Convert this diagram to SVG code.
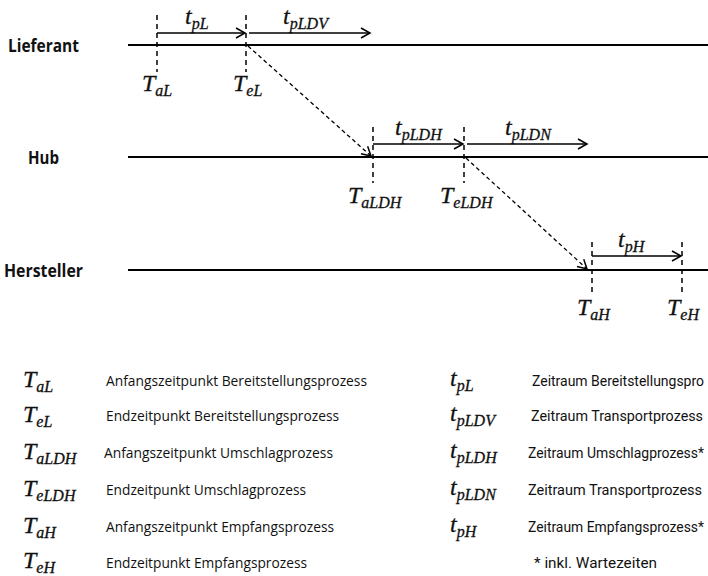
<svg xmlns="http://www.w3.org/2000/svg" width="708" height="576" viewBox="0 0 708 576">
  <defs>
    <marker id="head" markerUnits="userSpaceOnUse" markerWidth="12" markerHeight="12" refX="10" refY="6" orient="auto">
      <path d="M1,1 L10,6 L1,11" fill="none" stroke="#000" stroke-width="1.5"/>
    </marker>
    <style>
      .lane { stroke: #000; stroke-width: 2; }
      .tick { stroke: #000; stroke-width: 1.5; stroke-dasharray: 5 4; }
      .span { stroke: #000; stroke-width: 1.5; fill: none; marker-end: url(#head); }
      .flow { stroke: #000; stroke-width: 1.3; stroke-dasharray: 4 3; fill: none; marker-end: url(#head); }
      .actor { font-family: "Open Sans", "Noto Sans", sans-serif; font-weight: bold; font-size: 17px; fill: #111; }
      .m { font-family: "Liberation Serif", serif; font-style: italic; font-size: 24px; fill: #111; stroke: #111; stroke-width: 0.3; }
      .s { font-size: 16px; }
      .desc { font-family: "Open Sans", "Noto Sans", sans-serif; font-size: 14.5px; fill: #111; }
      .desc.r { font-family: Roboto, "Open Sans", sans-serif; font-size: 14px; }
    </style>
  </defs>

  <!-- actors with their time lines -->
  <g id="lieferant">
    <text class="actor" x="8" y="52" textLength="71" lengthAdjust="spacingAndGlyphs">Lieferant</text>
    <line class="lane" x1="128" y1="45" x2="708" y2="45"/>
  </g>
  <g id="hub">
    <text class="actor" x="28" y="164" textLength="31" lengthAdjust="spacingAndGlyphs">Hub</text>
    <line class="lane" x1="128" y1="157" x2="708" y2="157"/>
  </g>
  <g id="hersteller">
    <text class="actor" x="4" y="277" textLength="79" lengthAdjust="spacingAndGlyphs">Hersteller</text>
    <line class="lane" x1="128" y1="270" x2="708" y2="270"/>
  </g>

  <!-- time points -->
  <g id="T_aL">
    <line class="tick" x1="157" y1="15" x2="157" y2="72"/>
    <text class="m" x="142" y="91">T<tspan class="s" dy="5">aL</tspan></text>
  </g>
  <g id="T_eL">
    <line class="tick" x1="246" y1="15" x2="246" y2="72"/>
    <text class="m" x="233" y="91">T<tspan class="s" dy="5">eL</tspan></text>
  </g>
  <g id="T_aLDH">
    <line class="tick" x1="373" y1="127" x2="373" y2="183"/>
    <text class="m" x="348" y="203">T<tspan class="s" dy="5">aLDH</tspan></text>
  </g>
  <g id="T_eLDH">
    <line class="tick" x1="464" y1="127" x2="464" y2="183"/>
    <text class="m" x="440" y="203">T<tspan class="s" dy="5">eLDH</tspan></text>
  </g>
  <g id="T_aH">
    <line class="tick" x1="592" y1="242" x2="592" y2="294"/>
    <text class="m" x="577" y="315">T<tspan class="s" dy="5">aH</tspan></text>
  </g>
  <g id="T_eH">
    <line class="tick" x1="682" y1="242" x2="682" y2="294"/>
    <text class="m" x="667" y="315">T<tspan class="s" dy="5">eH</tspan></text>
  </g>

  <!-- durations and transfers -->
  <g id="connectors">
    <line class="span" x1="157" y1="33" x2="245" y2="33"/>
    <line class="span" x1="249" y1="33" x2="370" y2="33"/>
    <line class="span" x1="373" y1="144" x2="463" y2="144"/>
    <line class="span" x1="467" y1="144" x2="587" y2="144"/>
    <line class="span" x1="592" y1="256" x2="681" y2="256"/>
    <line class="flow" x1="248" y1="46" x2="371" y2="156"/>
    <line class="flow" x1="466" y1="158" x2="587" y2="269"/>
  </g>

  <g id="durations">
    <text class="m" x="185" y="24">t<tspan class="s" dy="5">pL</tspan></text>
    <text class="m" x="283" y="24">t<tspan class="s" dy="5">pLDV</tspan></text>
    <text class="m" x="395" y="135">t<tspan class="s" dy="5">pLDH</tspan></text>
    <text class="m" x="505" y="135">t<tspan class="s" dy="5">pLDN</tspan></text>
    <text class="m" x="618" y="247">t<tspan class="s" dy="5">pH</tspan></text>
  </g>

  <!-- legend: time points -->
  <g id="legend-points">
    <text class="m" x="23" y="387">T<tspan class="s" dy="5">aL</tspan></text>
    <text class="desc" x="106" y="386" textLength="261" lengthAdjust="spacingAndGlyphs">Anfangszeitpunkt Bereitstellungsprozess</text>
    <text class="m" x="23" y="422">T<tspan class="s" dy="5">eL</tspan></text>
    <text class="desc" x="106" y="421" textLength="233" lengthAdjust="spacingAndGlyphs">Endzeitpunkt Bereitstellungsprozess</text>
    <text class="m" x="23" y="459">T<tspan class="s" dy="5">aLDH</tspan></text>
    <text class="desc" x="104" y="458" textLength="229" lengthAdjust="spacingAndGlyphs">Anfangszeitpunkt Umschlagprozess</text>
    <text class="m" x="23" y="496">T<tspan class="s" dy="5">eLDH</tspan></text>
    <text class="desc" x="106" y="495" textLength="200" lengthAdjust="spacingAndGlyphs">Endzeitpunkt Umschlagprozess</text>
    <text class="m" x="23" y="533">T<tspan class="s" dy="5">aH</tspan></text>
    <text class="desc" x="106" y="532" textLength="228" lengthAdjust="spacingAndGlyphs">Anfangszeitpunkt Empfangsprozess</text>
    <text class="m" x="23" y="568">T<tspan class="s" dy="5">eH</tspan></text>
    <text class="desc" x="106" y="568" textLength="201" lengthAdjust="spacingAndGlyphs">Endzeitpunkt Empfangsprozess</text>
  </g>

  <!-- legend: durations -->
  <g id="legend-durations">
    <text class="m" x="450" y="386">t<tspan class="s" dy="5">pL</tspan></text>
    <text class="desc r" x="532" y="386" textLength="172" lengthAdjust="spacingAndGlyphs">Zeitraum Bereitstellungspro</text>
    <text class="m" x="450" y="421">t<tspan class="s" dy="5">pLDV</tspan></text>
    <text class="desc r" x="531" y="421" textLength="172" lengthAdjust="spacingAndGlyphs">Zeitraum Transportprozess</text>
    <text class="m" x="450" y="458">t<tspan class="s" dy="5">pLDH</tspan></text>
    <text class="desc r" x="528" y="458" textLength="176" lengthAdjust="spacingAndGlyphs">Zeitraum Umschlagprozess*</text>
    <text class="m" x="450" y="495">t<tspan class="s" dy="5">pLDN</tspan></text>
    <text class="desc r" x="528" y="495" textLength="174" lengthAdjust="spacingAndGlyphs">Zeitraum Transportprozess</text>
    <text class="m" x="450" y="532">t<tspan class="s" dy="5">pH</tspan></text>
    <text class="desc r" x="528" y="532" textLength="176" lengthAdjust="spacingAndGlyphs">Zeitraum Empfangsprozess*</text>
    <text class="desc r" x="534" y="568" textLength="123" lengthAdjust="spacingAndGlyphs">* inkl. Wartezeiten</text>
  </g>
</svg>
